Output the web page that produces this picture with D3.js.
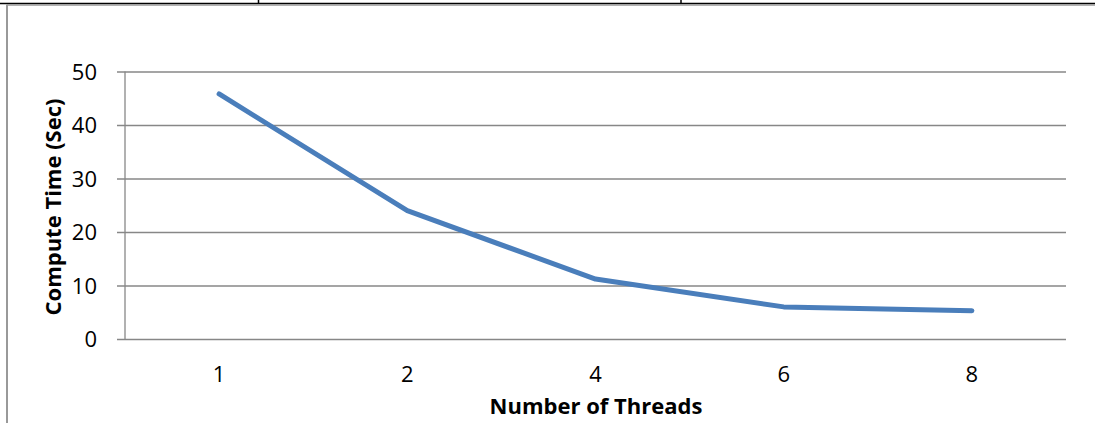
<!DOCTYPE html>
<html>
<head>
<meta charset="utf-8">
<script src="https://cdn.jsdelivr.net/npm/d3@7"></script>
<style>
  html, body { margin: 0; padding: 0; background: #fff; }
  svg { display: block; }
  text { font-family: "Open Sans", "Noto Sans", sans-serif; fill: #000; }
</style>
</head>
<body>
<div id="chart"></div>
<script>
const threads = ["1", "2", "4", "6", "8"];
const computeTime = [45.8, 24.0, 11.2, 6.0, 5.3];
const yTicks = [0, 10, 20, 30, 40, 50];

const width = 1095, height = 423;
const plot = { left: 125, right: 1066, top: 71.5, bottom: 339 };
const gridColor = "#878787";
const lineColor = "#4A7EBB";

const svg = d3.select("#chart").append("svg")
  .attr("width", width)
  .attr("height", height);

// page frame left over from the document around the chart
svg.append("line").attr("x1", 0).attr("x2", width).attr("y1", 3.5).attr("y2", 3.5)
  .attr("stroke", "#000").attr("stroke-width", 1.5);
[258.5, 681].forEach(x => {
  svg.append("line").attr("x1", x).attr("x2", x).attr("y1", 0).attr("y2", 3)
    .attr("stroke", "#000").attr("stroke-width", 1.5);
});
svg.append("line").attr("x1", 7).attr("x2", width).attr("y1", 5).attr("y2", 5)
  .attr("stroke", "#999").attr("stroke-width", 1.5);
svg.append("line").attr("x1", 7).attr("x2", 7).attr("y1", 4.5).attr("y2", height)
  .attr("stroke", "#999").attr("stroke-width", 2);

const x = d3.scaleBand()
  .domain(threads)
  .range([plot.left, plot.right]);

const y = d3.scaleLinear()
  .domain([0, 50])
  .range([plot.bottom, plot.top]);

// gridlines + y axis
const yAxis = d3.axisLeft(y)
  .tickValues(yTicks)
  .tickSize(-(plot.right - plot.left))
  .tickFormat(d3.format("d"))
  .tickPadding(0);

const gy = svg.append("g")
  .attr("transform", `translate(${plot.left},0)`)
  .call(yAxis)
  .attr("font-size", 22)
  .attr("font-family", null);
gy.select(".domain").remove();
gy.selectAll(".tick line")
  .attr("x1", -8)
  .attr("stroke", gridColor)
  .attr("stroke-width", 1.3);
gy.selectAll(".tick text")
  .attr("x", -28)
  .attr("dy", "0.35em");

svg.append("line")
  .attr("x1", plot.left).attr("x2", plot.left)
  .attr("y1", plot.top).attr("y2", plot.bottom)
  .attr("stroke", gridColor).attr("stroke-width", 1.3);

// x axis labels
const xAxis = d3.axisBottom(x).tickSize(0).tickPadding(0);
const gx = svg.append("g")
  .attr("transform", `translate(0,${plot.bottom})`)
  .call(xAxis)
  .attr("font-size", 22)
  .attr("font-family", null);
gx.select(".domain").remove();
gx.selectAll(".tick text")
  .attr("y", 35)
  .attr("dy", "0.35em");

// series line
const line = d3.line()
  .x((d, i) => x(threads[i]) + x.bandwidth() / 2)
  .y(d => y(d));

svg.append("path")
  .datum(computeTime)
  .attr("d", line)
  .attr("fill", "none")
  .attr("stroke", lineColor)
  .attr("stroke-width", 5)
  .attr("stroke-linecap", "round")
  .attr("stroke-linejoin", "round");

// titles
svg.append("text")
  .attr("x", 596)
  .attr("y", 414)
  .attr("text-anchor", "middle")
  .attr("font-size", 22)
  .attr("font-weight", "bold")
  .text("Number of Threads");

svg.append("text")
  .attr("transform", "translate(61,207) rotate(-90)")
  .attr("text-anchor", "middle")
  .attr("font-size", 22)
  .attr("font-weight", "bold")
  .text("Compute Time (Sec)");
</script>
</body>
</html>
